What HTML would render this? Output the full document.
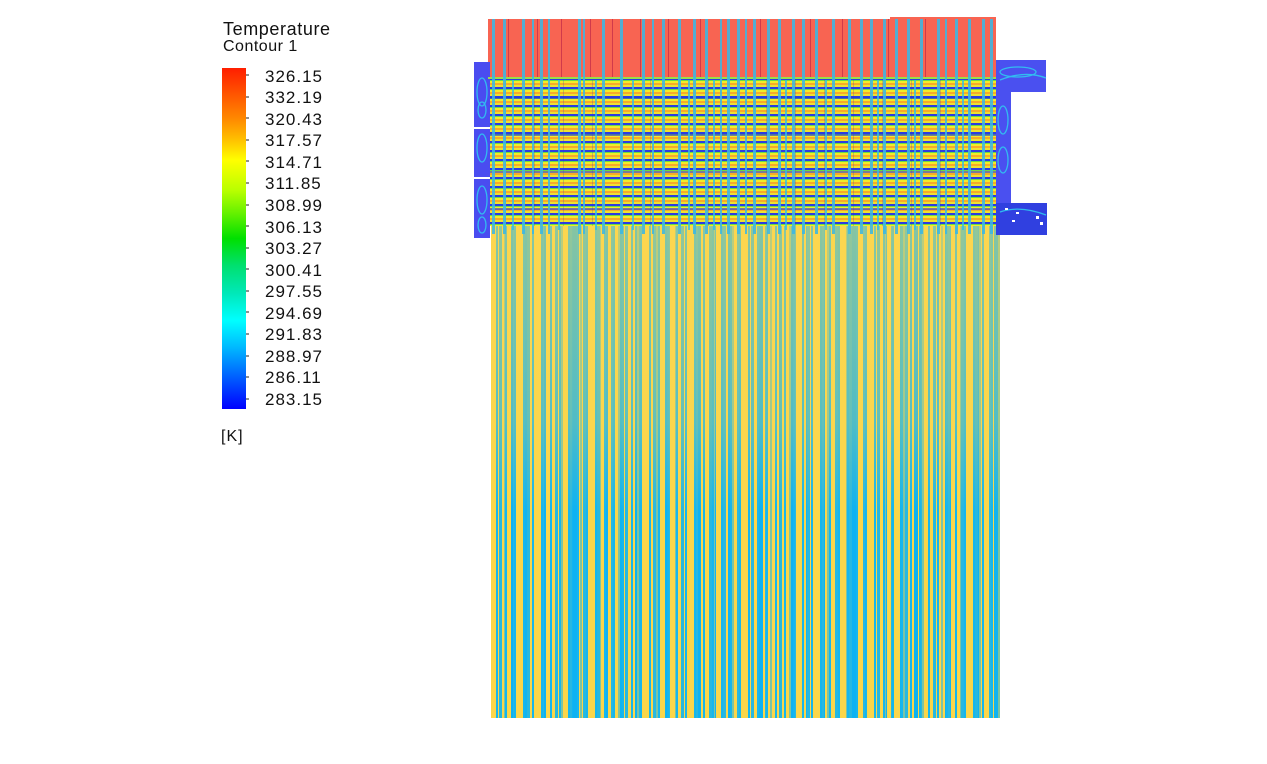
<!DOCTYPE html>
<html>
<head>
<meta charset="utf-8">
<style>
html,body{margin:0;padding:0;background:#fff;}
#root{position:relative;width:1267px;height:764px;overflow:hidden;background:#fff;font-family:"Liberation Sans",Arial,sans-serif;}
.abs{position:absolute;}
#title1{left:223px;top:19px;font-size:18px;letter-spacing:0.6px;color:#111;line-height:20px;}
#title2{left:223px;top:38px;font-size:16px;letter-spacing:0.5px;color:#111;line-height:18px;}
#bar{left:222px;top:68px;width:24px;height:341px;
background:linear-gradient(180deg,#ff1e00 0%,#ff5000 7%,#ff8a00 15%,#ffc000 21%,#ffff00 27%,#b8ff00 36%,#60f000 43%,#00e000 50%,#00e070 58%,#00e8b8 66%,#00ffff 74%,#00b8ff 82%,#0070ff 89%,#0000ff 100%);}
.lbl{position:absolute;left:265px;font-size:17px;letter-spacing:1px;color:#111;line-height:16px;}
#unit{left:221px;top:429px;font-size:16px;letter-spacing:1px;color:#111;line-height:16px;}
#red{left:488px;top:19px;width:508px;height:59px;background:#f86452;}
#red2{left:890px;top:17px;width:106px;height:4px;background:#f86452;}
#band{left:488px;top:78px;width:508px;height:148px;
background:
repeating-linear-gradient(90deg,transparent 0 17px,rgba(40,56,210,.25) 17px 18px,transparent 18px 29px),
repeating-linear-gradient(180deg,transparent 0 19px,rgba(40,50,220,.6) 19px 21px,transparent 21px 37px),
repeating-linear-gradient(180deg,#2c3ce0 0 2px,#6cdc44 2px 3px,#f2ec2a 3px 5px,#f7aa2a 5px 7px,#eee230 7px 9px);}
#bottom{left:491px;top:226px;width:509px;height:492px;background-color:#fbd64a;
background-image:
linear-gradient(180deg,rgba(252,214,84,.5) 0%,rgba(252,214,84,.28) 40%,rgba(252,214,84,0) 58%),
repeating-linear-gradient(90deg,transparent 0 5px,#16b6ee 5px 7px,transparent 7px 9px),
repeating-linear-gradient(90deg,transparent 0 8px,#28b8e0 8px 11px,transparent 11px 14px),
repeating-linear-gradient(90deg,transparent 0 13px,#7cc4a4 13px 15px,transparent 15px 19px),
repeating-linear-gradient(90deg,transparent 0 20px,#0eb2f2 20px 24px,transparent 24px 31px),
repeating-linear-gradient(90deg,transparent 0 33px,#12b4f0 33px 37px,transparent 37px 47px);}
</style>
</head>
<body>
<div id="root">
  <div class="abs" id="title1">Temperature</div>
  <div class="abs" id="title2">Contour 1</div>
  <div class="abs" id="bar"></div>
  <svg class="abs" style="left:240px;top:60px" width="14" height="360">
    <g stroke="#222" stroke-width="1">
      <line x1="6" y1="15" x2="9" y2="15"/><line x1="6" y1="37" x2="9" y2="37"/>
      <line x1="6" y1="58" x2="9" y2="58"/><line x1="6" y1="80" x2="9" y2="80"/>
      <line x1="6" y1="101" x2="9" y2="101"/><line x1="6" y1="123" x2="9" y2="123"/>
      <line x1="6" y1="145" x2="9" y2="145"/><line x1="6" y1="166" x2="9" y2="166"/>
      <line x1="6" y1="188" x2="9" y2="188"/><line x1="6" y1="209" x2="9" y2="209"/>
      <line x1="6" y1="231" x2="9" y2="231"/><line x1="6" y1="252" x2="9" y2="252"/>
      <line x1="6" y1="274" x2="9" y2="274"/><line x1="6" y1="296" x2="9" y2="296"/>
      <line x1="6" y1="317" x2="9" y2="317"/><line x1="6" y1="339" x2="9" y2="339"/>
    </g>
  </svg>
  <div class="lbl" style="top:69px">326.15</div>
  <div class="lbl" style="top:90px">332.19</div>
  <div class="lbl" style="top:112px">320.43</div>
  <div class="lbl" style="top:133px">317.57</div>
  <div class="lbl" style="top:155px">314.71</div>
  <div class="lbl" style="top:176px">311.85</div>
  <div class="lbl" style="top:198px">308.99</div>
  <div class="lbl" style="top:220px">306.13</div>
  <div class="lbl" style="top:241px">303.27</div>
  <div class="lbl" style="top:263px">300.41</div>
  <div class="lbl" style="top:284px">297.55</div>
  <div class="lbl" style="top:306px">294.69</div>
  <div class="lbl" style="top:327px">291.83</div>
  <div class="lbl" style="top:349px">288.97</div>
  <div class="lbl" style="top:370px">286.11</div>
  <div class="lbl" style="top:392px">283.15</div>
  <div class="abs" id="unit">[K]</div>

  <div class="abs" id="bottom"></div>
  <div class="abs" id="red"></div>
  <div class="abs" id="red2"></div>
  <div class="abs" id="band"></div>

  <svg class="abs" style="left:0;top:0" width="1267" height="764">
    <!-- left manifold -->
    <rect x="474" y="62" width="16" height="176" fill="#4a4cf0"/>
    <rect x="474" y="127" width="16" height="2" fill="#ffffff"/>
    <rect x="474" y="177" width="16" height="2" fill="#ffffff"/>
    <g fill="none" stroke="#30c8f0" stroke-width="1.3" opacity=".9">
      <ellipse cx="482" cy="92" rx="5" ry="14"/>
      <ellipse cx="482" cy="110" rx="4" ry="8"/>
      <ellipse cx="482" cy="148" rx="5" ry="14"/>
      <ellipse cx="482" cy="200" rx="5" ry="14"/>
      <ellipse cx="482" cy="225" rx="4" ry="8"/>
    </g>
    <!-- right manifold -->
    <rect x="996" y="60" width="50" height="32" fill="#4a50f0"/>
    <rect x="996" y="92" width="15" height="111" fill="#4a50f0"/>
    <rect x="996" y="203" width="51" height="32" fill="#3040e0"/>
    <g fill="none" stroke="#30c8f0" stroke-width="1.3" opacity=".9">
      <ellipse cx="1018" cy="72" rx="18" ry="5"/>
      <path d="M1000 80 Q1025 70 1046 78"/>
      <ellipse cx="1003" cy="120" rx="5" ry="14"/>
      <ellipse cx="1003" cy="160" rx="5" ry="13"/>
      <path d="M1000 212 Q1020 205 1046 215"/>
    </g>
    <g fill="#ffffff">
      <rect x="1005" y="208" width="3" height="2"/><rect x="1016" y="212" width="3" height="2"/>
      <rect x="1012" y="220" width="3" height="2"/><rect x="1036" y="216" width="3" height="3"/>
      <rect x="1040" y="222" width="3" height="3"/>
    </g>
    <!-- dark red lines in red block -->
    <g fill="#c8304a" opacity=".8">
      <rect x="508" y="19" width="1" height="59"/><rect x="537" y="19" width="1" height="59"/>
      <rect x="561" y="19" width="1" height="59"/><rect x="590" y="19" width="1" height="59"/>
      <rect x="612" y="19" width="1" height="59"/><rect x="640" y="19" width="1" height="59"/>
      <rect x="668" y="19" width="1" height="59"/><rect x="700" y="19" width="1" height="59"/>
      <rect x="760" y="19" width="1" height="59"/><rect x="810" y="19" width="1" height="59"/>
      <rect x="842" y="19" width="1" height="59"/><rect x="888" y="19" width="1" height="59"/>
      <rect x="925" y="19" width="1" height="59"/><rect x="968" y="19" width="1" height="59"/>
    </g>
    <!-- green top edge of bands -->
    <rect x="488" y="77" width="508" height="2" fill="#9ade48"/>
    <!-- cyan vertical lines through top regions -->
    <g fill="#3cb8e4" opacity=".88">
      <rect x="492" y="19" width="3" height="215"/><rect x="503" y="19" width="3" height="215"/>
      <rect x="522" y="19" width="3" height="215"/><rect x="532" y="19" width="2" height="215"/>
      <rect x="540" y="19" width="3" height="215"/><rect x="548" y="19" width="2" height="215"/>
      <rect x="578" y="19" width="3" height="215"/><rect x="583" y="19" width="2" height="215"/>
      <rect x="602" y="19" width="3" height="215"/><rect x="620" y="19" width="3" height="215"/>
      <rect x="642" y="19" width="3" height="215"/><rect x="652" y="19" width="2" height="215"/>
      <rect x="662" y="19" width="3" height="215"/><rect x="678" y="19" width="3" height="215"/>
      <rect x="693" y="19" width="3" height="215"/><rect x="705" y="19" width="3" height="215"/>
      <rect x="720" y="19" width="2" height="215"/><rect x="727" y="19" width="3" height="215"/>
      <rect x="737" y="19" width="3" height="215"/><rect x="745" y="19" width="2" height="215"/>
      <rect x="753" y="19" width="3" height="215"/><rect x="767" y="19" width="3" height="215"/>
      <rect x="778" y="19" width="3" height="215"/><rect x="792" y="19" width="3" height="215"/>
      <rect x="802" y="19" width="3" height="215"/><rect x="815" y="19" width="3" height="215"/>
      <rect x="832" y="19" width="3" height="215"/><rect x="848" y="19" width="3" height="215"/>
      <rect x="860" y="19" width="3" height="215"/><rect x="870" y="19" width="3" height="215"/>
      <rect x="883" y="19" width="3" height="215"/><rect x="895" y="19" width="3" height="215"/>
      <rect x="907" y="19" width="3" height="215"/><rect x="920" y="19" width="3" height="215"/>
      <rect x="937" y="19" width="3" height="215"/><rect x="945" y="19" width="2" height="215"/>
      <rect x="955" y="19" width="3" height="215"/><rect x="968" y="19" width="3" height="215"/>
      <rect x="982" y="19" width="3" height="215"/><rect x="990" y="19" width="3" height="215"/>
    </g>
    <!-- extra cyan lines starting in band region -->
    <g fill="#30c0ea" opacity=".8">
      <rect x="512" y="80" width="2" height="150"/><rect x="558" y="80" width="2" height="150"/>
      <rect x="595" y="80" width="2" height="150"/><rect x="632" y="80" width="2" height="150"/>
      <rect x="688" y="80" width="2" height="150"/><rect x="713" y="80" width="2" height="150"/>
      <rect x="785" y="80" width="2" height="150"/><rect x="825" y="80" width="2" height="150"/>
      <rect x="877" y="80" width="2" height="150"/><rect x="914" y="80" width="2" height="150"/>
      <rect x="962" y="80" width="2" height="150"/>
    </g>
  </svg>
</div>
</body>
</html>
